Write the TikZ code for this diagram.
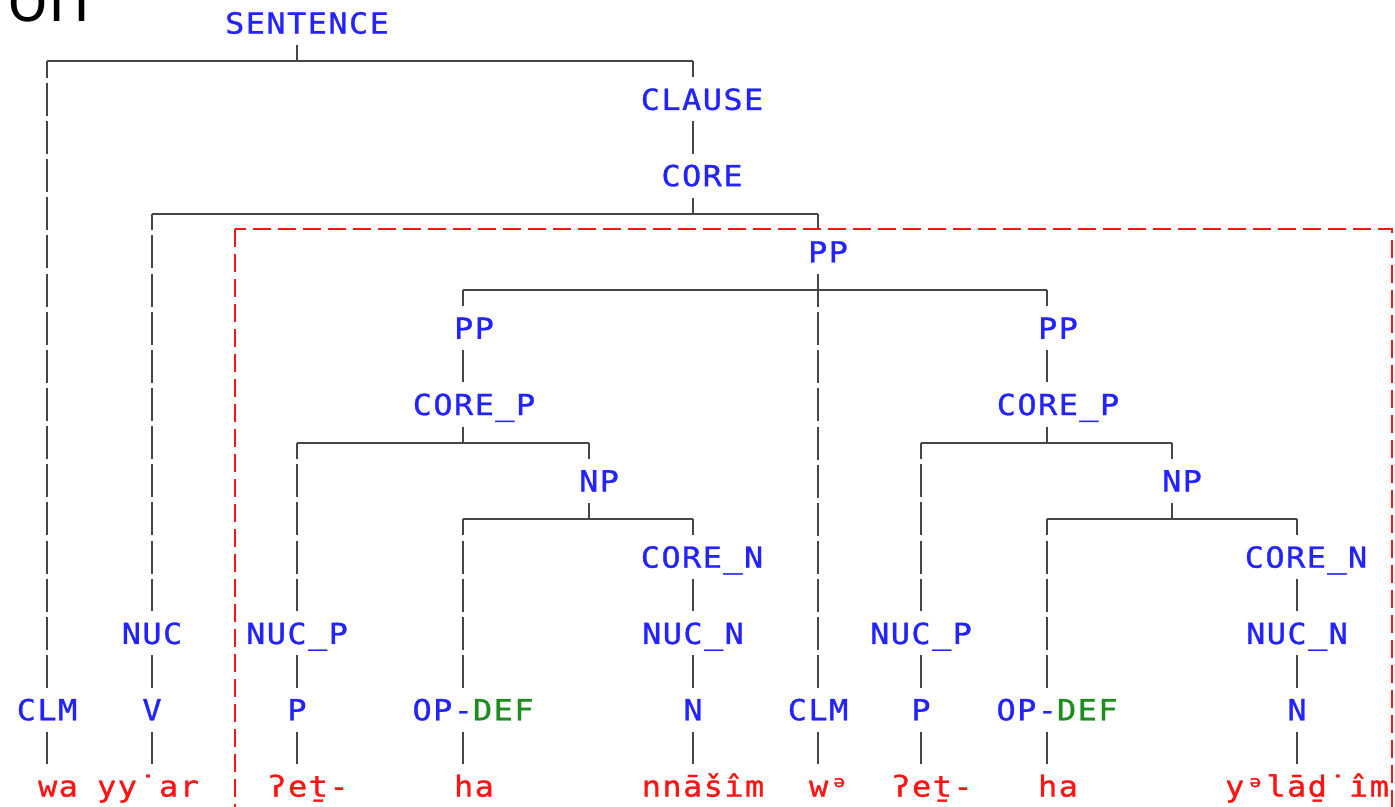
\documentclass[tikz,border=0pt]{standalone}
\usepackage{fontspec}
\newfontfamily\treefont[FakeStretch=1.1,LetterSpace=5,FakeBold=1]{DejaVu Sans Mono}
\newfontfamily\headfont{Open Sans}
\definecolor{lblblue}{RGB}{35,35,255}
\definecolor{defgreen}{RGB}{30,140,30}
\definecolor{wordred}{RGB}{255,20,20}
\definecolor{linegray}{RGB}{70,70,70}

\tikzset{
  lbl/.style={font={\treefont\fontsize{14.5}{17}\selectfont}, text=lblblue, inner sep=0pt,
    minimum height=21.65pt, text height=10.57pt, text depth=0pt},
  word/.style={lbl, text=wordred},
  rule/.style={draw=linegray, line width=0.9pt},
  vbar/.style={draw=linegray, line width=0.8pt, dash pattern=on 16.5pt off 2.575pt},
  corner/.style={vbar, dash phase=8.25pt},
}

\begin{document}
\begin{tikzpicture}[x=0.5pt,y=0.5pt,yscale=-1,xscale=1]
\useasboundingbox (0,0) rectangle (1395,807);

% Text Node
\node[anchor=base west, inner sep=0pt, font={\headfont\fontsize{34}{40}\selectfont}] (title) at (7,22) {on};

% Text Node
\node[lbl] (sentence) at (307,23) {SENTENCE};
\node[lbl] (clause) at (702,99.3) {CLAUSE};
\node[lbl] (core) at (702,175.6) {CORE};
\node[lbl] (pp) at (828,251.9) {PP};
\node[lbl] (nuc) at (152,633.4) {NUC};
\node[lbl] (clmA) at (47,709.7) {CLM};
\node[lbl] (v) at (152,709.7) {V};
\node[lbl] (clmB) at (818,709.7) {CLM};
\node[word] (wA) at (58,786) {wa};
\node[word] (wB) at (148,786) {yy˙ar};
\node[word] (wF) at (829,786) {wᵊ};

%Straight Lines
\coordinate (sent-l) at (47,61.15);
\coordinate (sent-t) at (297,61.15);
\coordinate (sent-r) at (693,61.15);
\coordinate (core-l) at (152,213.75);
\coordinate (core-t) at (693,213.75);
\coordinate (core-r) at (818,213.75);
\draw[rule] (sent-l) -- (sent-r);
\draw[vbar] (sentence.south -| sent-t) -- (sent-t);
\draw[corner] (sent-l) -- (clmA.north -| sent-l);
\draw[vbar] (clmA.south -| sent-l) -- (wA.north -| sent-l);
\draw[corner] (sent-r) -- (clause.north -| sent-r);
\draw[vbar] (clause.south -| sent-r) -- (core.north -| sent-r);
\draw[vbar] (core.south -| sent-r) -- (core-t);
\draw[rule] (core-l) -- (core-r);
\draw[corner] (core-l) -- (nuc.north -| core-l);
\draw[vbar] (nuc.south -| core-l) -- (v.north -| core-l);
\draw[vbar] (v.south -| core-l) -- (wB.north -| core-l);
\draw[corner] (core-r) -- (pp.north -| core-r);
\draw[vbar] (pp.south -| core-r) -- (clmB.north -| core-r);
\draw[vbar] (clmB.south -| core-r) -- (wF.north -| core-r);
\coordinate (pp-l) at (463,290.05);
\coordinate (pp-r) at (1047,290.05);
\draw[rule] (pp-l) -- (pp-r);

% the two PP branches
\foreach \s/\a/\b/\c/\d/\wn in {L/463/297/589/693/nnāšîm, R/1047/921/1172/1297/yᵊlāḏ˙îm}{
  \node[lbl] (pp\s) at (\a+11,328.2) {PP};
  \node[lbl] (cp\s) at (\a+11,404.5) {CORE\_P};
  \node[lbl] (np\s) at (\c+10,480.8) {NP};
  \node[lbl] (cn\s) at (\d+9,557.1) {CORE\_N};
  \node[lbl] (nucp\s) at (\b,633.4) {NUC\_P};
  \node[lbl] (nn\s) at (\d,633.4) {NUC\_N};
  \node[lbl] (p\s) at (\b,709.7) {P};
  \node[lbl] (op\s) at (\a+10,709.7) {OP-\textcolor{defgreen}{DEF}};
  \node[lbl] (n\s) at (\d,709.7) {N};
  \node[word] (wp\s) at (\b+11,786) {ʔeṯ-};
  \node[word] (wh\s) at (\a+11,786) {ha};
  \node[word] (wn\s) at (\d+10,786) {\wn};
  \coordinate (cp\s-l) at (\b,442.65);
  \coordinate (cp\s-t) at (\a,442.65);
  \coordinate (cp\s-r) at (\c,442.65);
  \coordinate (np\s-l) at (\a,518.95);
  \coordinate (np\s-t) at (\c,518.95);
  \coordinate (np\s-r) at (\d,518.95);
  \draw[corner] (\a,290.05) -- (pp\s.north -| cp\s-t);
  \draw[vbar] (pp\s.south -| cp\s-t) -- (cp\s.north -| cp\s-t);
  \draw[vbar] (cp\s.south -| cp\s-t) -- (cp\s-t);
  \draw[rule] (cp\s-l) -- (cp\s-r);
  \draw[corner] (cp\s-l) -- (nucp\s.north -| cp\s-l);
  \draw[vbar] (nucp\s.south -| cp\s-l) -- (p\s.north -| cp\s-l);
  \draw[vbar] (p\s.south -| cp\s-l) -- (wp\s.north -| cp\s-l);
  \draw[corner] (cp\s-r) -- (np\s.north -| cp\s-r);
  \draw[vbar] (np\s.south -| cp\s-r) -- (np\s-t);
  \draw[rule] (np\s-l) -- (np\s-r);
  \draw[corner] (np\s-l) -- (op\s.north -| np\s-l);
  \draw[vbar] (op\s.south -| np\s-l) -- (wh\s.north -| np\s-l);
  \draw[corner] (np\s-r) -- (cn\s.north -| np\s-r);
  \draw[vbar] (cn\s.south -| np\s-r) -- (nn\s.north -| np\s-r);
  \draw[vbar] (nn\s.south -| np\s-r) -- (n\s.north -| np\s-r);
  \draw[vbar] (n\s.south -| np\s-r) -- (wn\s.north -| np\s-r);
}

%Shape: Rectangle
\draw[wordred, line width=1.2pt, dash pattern=on 9pt off 3.5pt] (235,229) rectangle (1392,840);
\end{tikzpicture}
\end{document}
